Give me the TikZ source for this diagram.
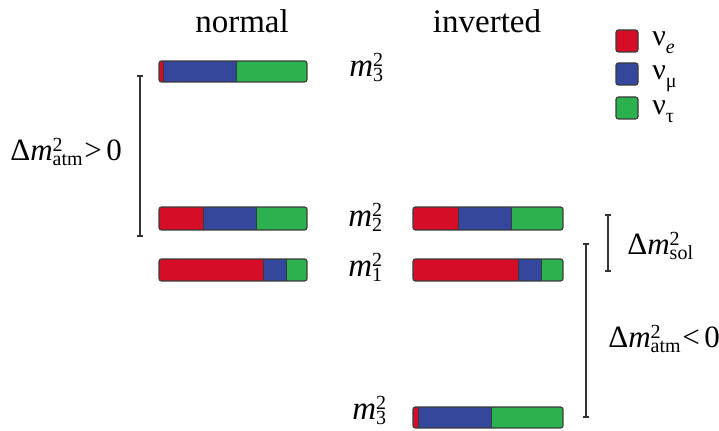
\documentclass[tikz,border=0pt]{standalone}
\usepackage{fontspec}
\setmainfont{Liberation Serif}
\usetikzlibrary{arrows.meta}
\definecolor{cnue}{HTML}{D60D27}
\definecolor{cnum}{HTML}{34479C}
\definecolor{cnut}{HTML}{2BB14E}
\definecolor{cedge}{HTML}{3A3A3A}
\newcommand{\msupsub}[2]{\textit{m}\rlap{\raisebox{0.32em}{\fontsize{10}{10}\selectfont #1}}\raisebox{-0.13em}{\fontsize{10}{10}\selectfont #2}}
\newcommand{\nubar}[6]{%
  \begin{scope}
    \clip[rounded corners=1.2pt] (#1,#2) rectangle (#3,#4);
    \fill[cnue] (#1,#2) rectangle (#5,#4);
    \fill[cnum] (#5,#2) rectangle (#6,#4);
    \fill[cnut] (#6,#2) rectangle (#3,#4);
    \draw[sepline] (#5,#2) -- (#5,#4) (#6,#2) -- (#6,#4);
  \end{scope}
  \draw[barline] (#1,#2) rectangle (#3,#4);}
\begin{document}
\begin{tikzpicture}[x=0.5pt,y=-0.5pt,
  barline/.style={draw=cedge,line width=0.55pt,rounded corners=1.2pt},
  sepline/.style={draw=cedge,line width=0.5pt},
  head/.style={anchor=base,inner sep=0pt,font=\fontsize{16.5}{19}\selectfont},
  mlab/.style={anchor=base west,inner sep=0pt,font=\fontsize{16.5}{19}\selectfont},
  leg/.style={anchor=base west,inner sep=0pt,font=\fontsize{15}{18}\selectfont},
  legbox/.style={draw=cedge,line width=0.55pt,rounded corners=1.2pt},
  brk/.style={draw=black!80,line width=0.6pt,{Bar[width=2.6pt,line width=1.1pt]}-{Bar[width=2.6pt,line width=1.1pt]}},
  dlab/.style={anchor=base west,inner sep=0pt,font=\fontsize{15.5}{18}\selectfont}]
\useasboundingbox (0,0) rectangle (719,431);
% headings
\node[head] (hnorm) at (242,33) {normal};
\node[head] (hinv) at (487,33) {inverted};
% normal bars
\nubar{159}{61}{307}{82}{163}{236}
\nubar{159}{207}{307}{230}{203}{256}
\nubar{159}{259}{307}{281}{263}{286}
% inverted bars
\nubar{413}{207}{563}{230}{458}{511}
\nubar{413}{259}{563}{281}{518}{541}
\nubar{413}{407}{563}{428}{418}{491}
% mass labels
\node[mlab] (m3n) at (349,77) {\msupsub{2}{3}};
\node[mlab] (m2) at (348,227) {\msupsub{2}{2}};
\node[mlab] (m1) at (348,277) {\msupsub{2}{1}};
\node[mlab] (m3i) at (352,420) {\msupsub{2}{3}};
% legend
\draw[legbox,fill=cnue] (616,30) rectangle (638,52);
\draw[legbox,fill=cnum] (616,63) rectangle (638,85);
\draw[legbox,fill=cnut] (616,97) rectangle (638,119);
\node[leg] (le) at (652,46) {ν\raisebox{-0.25em}{\fontsize{10}{10}\selectfont\textit{e}}};
\node[leg] (lm) at (652,80) {ν\raisebox{-0.25em}{\fontsize{10}{10}\selectfont μ}};
\node[leg] (lt) at (652,115) {ν\raisebox{-0.25em}{\fontsize{10}{10}\selectfont τ}};
% brackets
\coordinate (an1) at (140,75);
\coordinate (an2) at (140,237);
\draw[brk] (an1) -- (an2);
\coordinate (s1) at (608,214);
\coordinate (s2) at (608,272);
\draw[brk] (s1) -- (s2);
\coordinate (ai1) at (586,243);
\coordinate (ai2) at (586,418);
\draw[brk] (ai1) -- (ai2);
\node[dlab] (datmn) at (10,161) {Δ\msupsub{2}{atm}\kern0.05em>\kern0.15em0};
\node[dlab] (dsol) at (627,255) {Δ\msupsub{2}{sol}};
\node[dlab] (datmi) at (608,348) {Δ\msupsub{2}{atm}\kern0.05em<\kern0.15em0};
\end{tikzpicture}
\end{document}
